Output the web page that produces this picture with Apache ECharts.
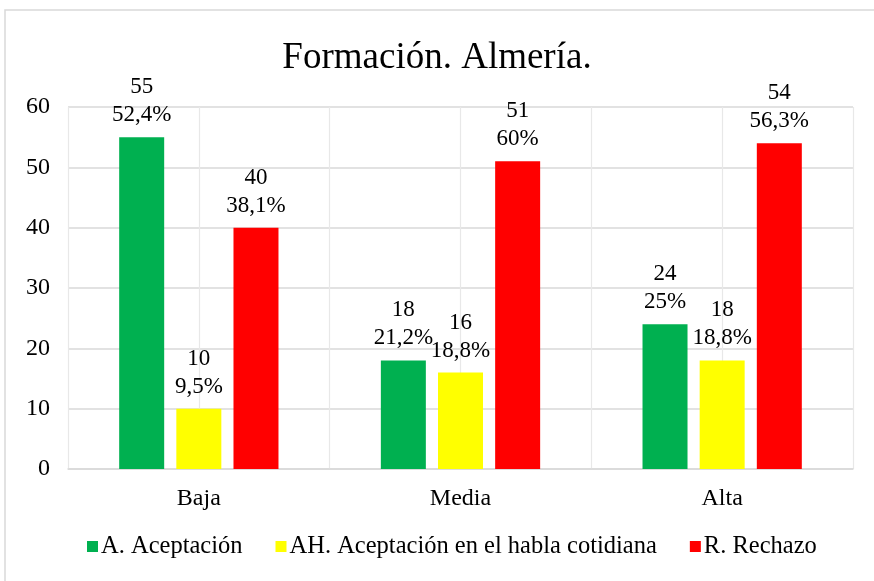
<!DOCTYPE html>
<html>
<head>
<meta charset="utf-8">
<script src="https://cdn.jsdelivr.net/npm/echarts@6/dist/echarts.min.js"></script>
<style>
html, body { margin: 0; padding: 0; background: #fff; }
#main { width: 874px; height: 581px; }
</style>
</head>
<body>
<div id="main"></div>
<script>
// datos del gráfico
var categorias = ['Baja', 'Media', 'Alta'];
var nombres = ['A. Aceptación', 'AH. Aceptación en el habla cotidiana', 'R. Rechazo'];
var aceptacion = [55, 18, 24];
var aceptacionHabla = [10, 16, 18];
var rechazo = [40, 51, 54];
var pctAceptacion = ['52,4%', '21,2%', '25%'];
var pctHabla = ['9,5%', '18,8%', '18,8%'];
var pctRechazo = ['38,1%', '60%', '56,3%'];
var colores = ['#00b050', '#ffff00', '#ff0000'];

var fuente = 'Liberation Serif';

function etiqueta(pcts) {
	return {
		show : true,
		position : 'top',
		distance : 8,
		fontFamily : fuente,
		fontSize : 23,
		lineHeight : 28,
		color : '#000',
		formatter : function(p) {
			return p.value + '\n' + pcts[p.dataIndex];
		}
	};
}

function serie(nombre, datos, pcts, color) {
	return {
		name : nombre,
		type : 'bar',
		xAxisIndex : 0,
		data : datos,
		barWidth : 45,
		barGap : '27%',
		itemStyle : { color : color },
		label : etiqueta(pcts)
	};
}

var myChart = echarts.init(document.getElementById('main'));

myChart.setOption({
	animation : false,
	color : colores,
	title : {
		text : 'Formación. Almería.',
		left : 'center',
		top : 35,
		textStyle : {
			fontFamily : fuente,
			fontSize : 37,
			fontWeight : 'normal',
			color : '#000'
		}
	},
	legend : {
		data : nombres,
		bottom : 17,
		left : 82,
		icon : 'rect',
		itemWidth : 11,
		itemHeight : 11,
		itemGap : 33,
		textStyle : {
			fontFamily : fuente,
			fontSize : 24.5,
			color : '#000',
			padding : [0, 0, 0, -2]
		}
	},
	grid : {
		left : 68,
		right : 21,
		top : 107,
		bottom : 112
	},
	graphic : [ {
		type : 'rect',
		shape : { x : 5, y : 10, width : 900, height : 600 },
		style : { fill : 'none', stroke : '#d9d9d9', lineWidth : 1.5 },
		silent : true
	} ],
	xAxis : [ {
		type : 'category',
		data : categorias,
		axisLine : { lineStyle : { color : '#d9d9d9', width : 1.5 } },
		axisTick : { show : false },
		axisLabel : {
			margin : 18,
			fontFamily : fuente,
			fontSize : 24,
			color : '#000'
		},
		splitLine : { show : false }
	}, {
		// eje auxiliar para las líneas verticales
		type : 'category',
		data : ['', '', '', '', '', ''],
		position : 'bottom',
		axisLine : { show : false },
		axisTick : { show : false },
		axisLabel : { show : false },
		splitLine : { show : true, lineStyle : { color : '#e8e8e8', width : 1.2 } }
	} ],
	yAxis : {
		type : 'value',
		min : 0,
		max : 60,
		interval : 10,
		axisLine : { show : false },
		axisTick : { show : false },
		axisLabel : {
			margin : 18,
			fontFamily : fuente,
			fontSize : 24,
			color : '#000'
		},
		splitLine : { lineStyle : { color : '#d9d9d9', width : 1.5 } }
	},
	series : [
		serie(nombres[0], aceptacion, pctAceptacion, colores[0]),
		serie(nombres[1], aceptacionHabla, pctHabla, colores[1]),
		serie(nombres[2], rechazo, pctRechazo, colores[2])
	]
});
</script>
</body>
</html>
